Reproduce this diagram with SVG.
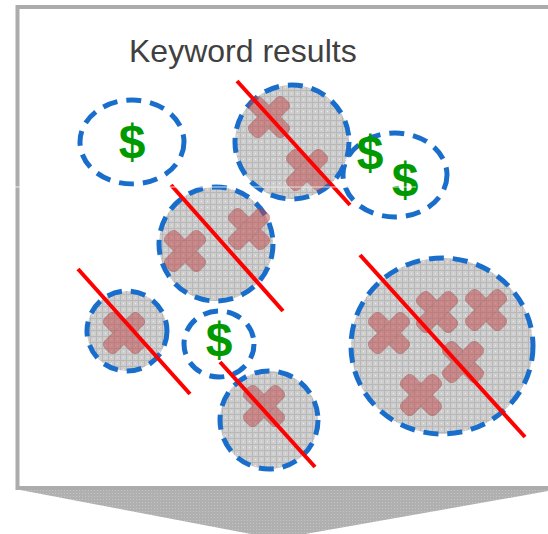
<svg xmlns="http://www.w3.org/2000/svg" width="548" height="534" viewBox="0 0 548 534">
<style>
.blob{fill:url(#grid);stroke:#1a6ecb;stroke-width:5;stroke-dasharray:15 9}
.purse{fill:none;stroke:#1a6ecb;stroke-width:5;stroke-dasharray:15 9}
.strike{stroke:#ff0000;stroke-width:4;stroke-linecap:butt}
.dollar{font-family:"Liberation Sans",Arial,sans-serif;font-weight:bold;font-size:48px;fill:#009a00;text-anchor:middle}
.title{font-family:"Liberation Sans",Arial,sans-serif;font-size:32px;fill:#404040}
</style>
<defs>
<pattern id="grid" width="6" height="6" patternUnits="userSpaceOnUse">
<rect width="6" height="6" fill="#cecece"/>
<path d="M0 0.5H6M0.5 0V6" stroke="#b8b8b8" stroke-width="1"/>
<rect x="3" y="3" width="1" height="1" fill="#ececec"/>
</pattern>
<pattern id="dots" width="3" height="3" patternUnits="userSpaceOnUse">
<rect width="3" height="3" fill="#b0b0b0"/>
<rect x="1" y="1" width="1" height="1" fill="#c4c4c4"/>
</pattern>
<g id="xmark" opacity="0.5">
<g fill="#c04545" stroke="#a04040" stroke-width="1">
<rect x="-24" y="-8" width="48" height="16" rx="5" transform="rotate(45)"/>
<rect x="-24" y="-8" width="48" height="16" rx="5" transform="rotate(-45)"/>
</g>
</g>
</defs>

<g id="frame">
<polygon points="15,489 560,489 277,539" fill="url(#dots)"/>
<rect x="17.5" y="7" width="545" height="481" fill="#ffffff" stroke="#acacac" stroke-width="4"/>
</g>

<g id="title"><text class="title" x="129" y="62">Keyword results</text></g>

<g id="paid1">
<ellipse class="purse" cx="132" cy="142" rx="52" ry="42"/>
<text class="dollar" x="132" y="158">$</text>
</g>

<g id="paid2">
<ellipse class="purse" cx="395" cy="175" rx="52" ry="42"/>
<text class="dollar" x="370" y="169">$</text>
<text class="dollar" x="405" y="196">$</text>
</g>

<g id="paid3">
<ellipse class="purse" cx="219" cy="344" rx="35" ry="33"/>
<text class="dollar" x="219" y="356">$</text>
</g>

<g id="blobA">
<circle class="blob" cx="292" cy="142" r="57"/>
<use href="#xmark" x="269" y="117"/>
<use href="#xmark" x="307" y="170"/>
<line class="strike" x1="237" y1="81" x2="350" y2="205"/>
</g>

<g id="blobB">
<circle class="blob" cx="216" cy="244" r="57"/>
<use href="#xmark" x="185" y="251"/>
<use href="#xmark" x="249" y="229"/>
<line class="strike" x1="171" y1="185" x2="283" y2="311"/>
</g>

<g id="blobC">
<circle class="blob" cx="127" cy="331" r="40"/>
<use href="#xmark" x="124" y="333"/>
<line class="strike" x1="78" y1="269" x2="190" y2="394"/>
</g>

<g id="blobD">
<circle class="blob" cx="269" cy="420" r="49"/>
<use href="#xmark" x="264" y="406"/>
<line class="strike" x1="220" y1="362" x2="315" y2="467"/>
</g>

<g id="blobE">
<ellipse class="blob" cx="442" cy="346" rx="91" ry="88"/>
<use href="#xmark" x="389" y="333"/>
<use href="#xmark" x="437" y="312"/>
<use href="#xmark" x="486" y="310"/>
<use href="#xmark" x="463" y="362"/>
<use href="#xmark" x="421" y="395"/>
<line class="strike" x1="360" y1="255" x2="525" y2="437"/>
</g>

<g id="connectors"/>
<line x1="15" y1="187" x2="416" y2="187" stroke="#ffffff" stroke-width="1" opacity="0.8"/>
</svg>
